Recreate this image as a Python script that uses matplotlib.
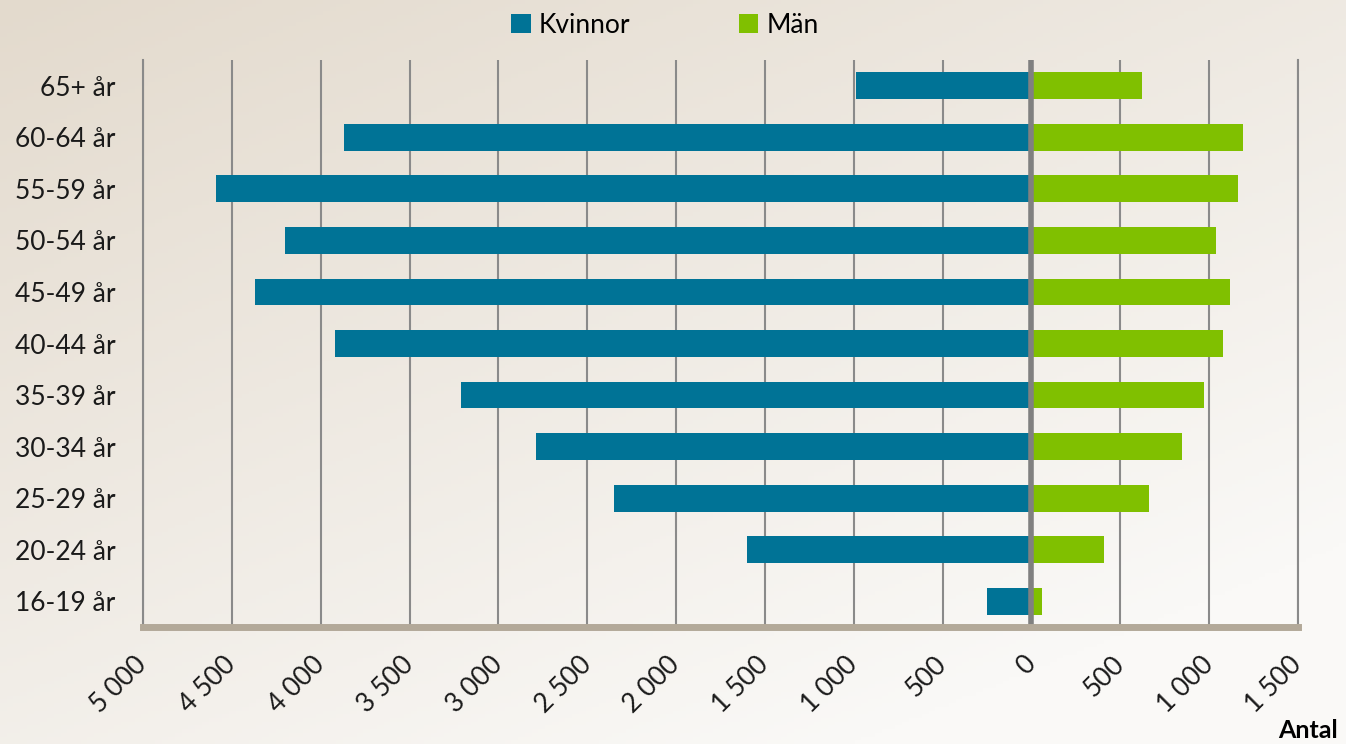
import matplotlib.pyplot as plt
import numpy as np

# Data
age_groups = ["65+ år", "60-64 år", "55-59 år", "50-54 år", "45-49 år", "40-44 år",
              "35-39 år", "30-34 år", "25-29 år", "20-24 år", "16-19 år"]
kvinnor = [990, 3870, 4590, 4200, 4370, 3920, 3210, 2790, 2350, 1600, 250]
man = [620, 1190, 1160, 1040, 1120, 1080, 970, 850, 660, 410, 60]
ticks = [-5000, -4500, -4000, -3500, -3000, -2500, -2000, -1500, -1000, -500, 0, 500, 1000, 1500]

plt.rcParams['font.family'] = ['Lato', 'DejaVu Sans']

fig = plt.figure(figsize=(13.46, 7.44), dpi=100)

# background gradient (beige top-left -> near white bottom-right)
bg = fig.add_axes([0, 0, 1, 1], zorder=-10)
yy, xx = np.mgrid[0:1:200j, 0:1:200j]
t = np.clip((xx * 0.55 + yy * 0.75) / 1.1, 0, 1)
c0 = np.array([227, 218, 205]) / 255
c1 = np.array([250, 249, 247]) / 255
img = c0[None, None, :] * (1 - t[..., None]) + c1[None, None, :] * t[..., None]
bg.imshow(img, aspect='auto', extent=[0, 1, 0, 1], origin='upper')
bg.axis('off')

ax = fig.add_axes([143 / 1346, 1 - 627 / 744, (1298 - 143) / 1346, (627 - 60) / 744])
ax.patch.set_visible(False)

y = np.arange(len(age_groups))
ax.barh(y, [-v for v in kvinnor], height=0.52, color='#007396', label='Kvinnor', zorder=3)
ax.barh(y, man, height=0.52, color='#80c000', label='Män', zorder=3)

ax.set_xlim(-5000, 1500)
ax.set_ylim(len(age_groups) - 0.5, -0.5)
ax.set_yticks(y)
ax.set_yticklabels(age_groups, fontsize=19, color='#1a1a1a')
ax.set_xticks(ticks)
ax.set_xticklabels([f"{abs(v):,}".replace(",", " ") for v in ticks], fontsize=19,
                   rotation=45, ha='right', va='center', rotation_mode='anchor', color='#1a1a1a')
ax.tick_params(axis='both', length=0)
ax.tick_params(axis='x', pad=24)
ax.tick_params(axis='y', pad=20)

ax.grid(axis='x', color='#8a8a8a', linewidth=1.5, zorder=1)
ax.axvline(-5000, color='#8a8a8a', linewidth=1.5, zorder=1, clip_on=False)
ax.axvline(1500, color='#8a8a8a', linewidth=1.5, zorder=1, clip_on=False)
ax.axvline(0, color='#808080', linewidth=4, zorder=4)
for s in ['top', 'right', 'left']:
    ax.spines[s].set_visible(False)
ax.spines['bottom'].set_color('#b3a999')
ax.spines['bottom'].set_linewidth(5)
ax.spines['bottom'].set_zorder(5)

fig.legend(loc='upper center', bbox_to_anchor=(0.494, 1.015), ncol=2, frameon=False,
           fontsize=19, handlelength=0.75, handleheight=0.75, columnspacing=4.1, handletextpad=0.3)

fig.text(0.994, 0.003, "Antal", fontsize=18, fontweight='bold', ha='right', va='bottom')

fig.savefig("out.png", dpi=100)
